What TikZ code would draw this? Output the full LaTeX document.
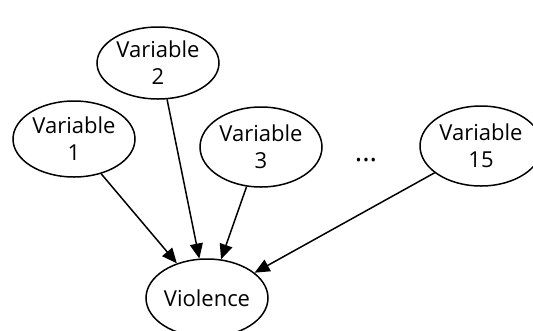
\documentclass[tikz,border=0pt]{standalone}
\usepackage{fontspec}
\setmainfont{Open Sans}
\usetikzlibrary{shapes.geometric,arrows.meta}
\begin{document}
\begin{tikzpicture}[x=1pt,y=-1pt,
  var/.style={draw,line width=1.5pt,ellipse,inner sep=0pt,minimum width=122pt,minimum height=76pt,align=center,font=\fontsize{22}{27}\selectfont},
  edge/.style={line width=1.5pt,-{Triangle[length=15pt,width=13pt]}}]
\useasboundingbox (0,0) rectangle (533,330);
\node[var] (v1) at (74,139) {Variable\\1};
\node[var,minimum height=72pt] (v2) at (158,63) {Variable\\2};
\node[var,minimum height=80pt] (v3) at (261,147) {Variable\\3};
\node[var,minimum height=80pt] (v15) at (481,146) {Variable\\15};
\node[var,minimum height=78pt] (vio) at (207,298) {Violence};
\node[font=\fontsize{28}{30}\selectfont] (dots) at (366,160) {...};
\draw[edge] (v1.-52) -- (vio.131);
\draw[edge] (v2.-76) -- (vio.101);
\draw[edge] (v3.-110) -- (vio.70);
\draw[edge] (v15.-150) -- (vio.28);
\end{tikzpicture}
\end{document}
